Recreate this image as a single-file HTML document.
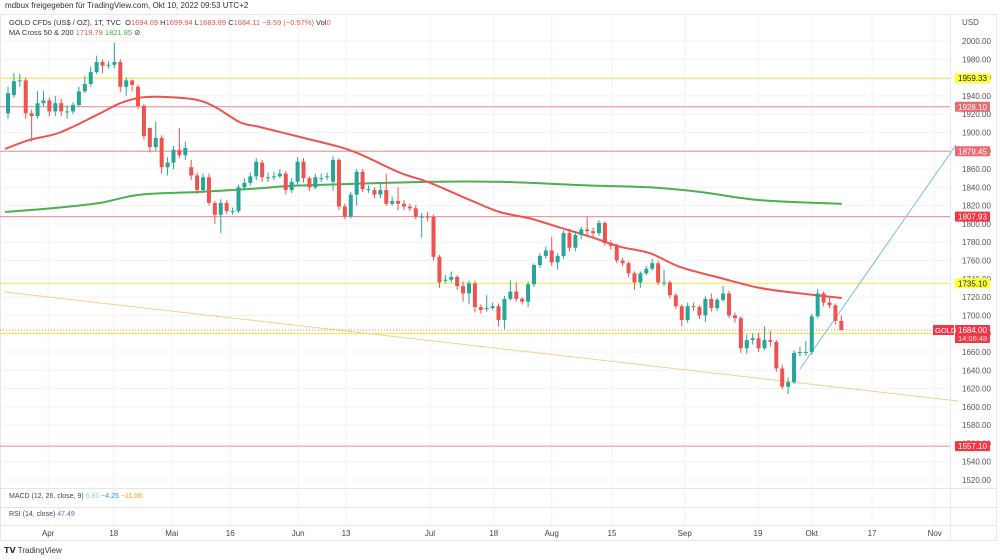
<!DOCTYPE html>
<html><head><meta charset="utf-8">
<style>
body{margin:0;background:#fff;font-family:"Liberation Sans",sans-serif;}
#wrap{position:relative;width:1000px;height:560px;overflow:hidden;}
svg{position:absolute;left:0;top:0;}
</style></head>
<body>
<div id="wrap">
<svg id="chart" width="1000" height="560"></svg>
</div>
<script>
const opens =[1921,1941,1956,1957,1921,1918,1932,1935,1923,1932,1923,1923,1930,1945,1953,1966,1977,1973,1974,1977,1950,1957,1950,1929,1905,1884,1894,1862,1867,1881,1875,1862,1853,1837,1851,1823,1810,1823,1814,1814,1840,1845,1852,1867,1851,1852,1852,1855,1837,1846,1868,1850,1840,1850,1851,1846,1870,1819,1808,1832,1857,1838,1837,1832,1837,1822,1825,1822,1819,1817,1808,1808,1808,1764,1739,1739,1742,1732,1724,1735,1709,1708,1708,1710,1695,1718,1726,1718,1715,1734,1755,1765,1771,1758,1765,1790,1774,1788,1794,1792,1790,1801,1779,1776,1760,1757,1746,1736,1746,1751,1757,1736,1736,1722,1710,1695,1710,1709,1700,1718,1708,1717,1724,1700,1697,1664,1673,1675,1664,1673,1671,1642,1622,1627,1660,1660,1660,1699,1724,1714,1711,1694];
const highs =[1950,1965,1964,1960,1925,1945,1946,1938,1940,1937,1930,1933,1950,1962,1972,1984,1980,1978,1998,1980,1960,1958,1952,1931,1905,1912,1897,1873,1885,1905,1890,1870,1856,1855,1855,1825,1827,1826,1818,1843,1850,1856,1872,1870,1856,1857,1860,1858,1850,1873,1872,1852,1855,1855,1856,1874,1872,1822,1835,1860,1860,1842,1840,1845,1855,1830,1840,1826,1822,1821,1812,1813,1810,1766,1744,1748,1744,1737,1738,1738,1712,1722,1714,1713,1721,1738,1736,1720,1737,1757,1768,1775,1786,1768,1793,1795,1792,1797,1808,1796,1804,1803,1782,1778,1763,1759,1748,1748,1754,1762,1760,1750,1738,1724,1712,1714,1714,1711,1721,1724,1719,1732,1727,1703,1699,1679,1680,1681,1688,1683,1673,1646,1632,1662,1666,1672,1702,1729,1726,1720,1713,1700];
const lows  =[1915,1938,1950,1915,1890,1915,1928,1918,1918,1918,1915,1920,1928,1943,1950,1964,1965,1970,1970,1944,1940,1945,1926,1892,1878,1880,1855,1853,1860,1872,1870,1848,1833,1834,1820,1800,1790,1811,1810,1812,1837,1842,1848,1846,1846,1848,1850,1832,1834,1843,1845,1836,1838,1846,1848,1836,1815,1805,1806,1820,1835,1834,1828,1828,1820,1820,1815,1815,1814,1805,1785,1803,1760,1730,1735,1736,1728,1715,1712,1703,1702,1704,1706,1688,1685,1716,1715,1712,1709,1731,1752,1762,1754,1750,1762,1770,1770,1783,1788,1786,1787,1776,1772,1757,1754,1742,1728,1730,1744,1749,1733,1732,1718,1707,1688,1692,1705,1696,1693,1704,1705,1715,1697,1692,1659,1658,1668,1660,1662,1666,1638,1619,1614,1625,1655,1656,1657,1697,1710,1708,1690,1684];
const closes=[1943,1956,1957,1921,1918,1932,1935,1923,1932,1923,1923,1930,1945,1953,1966,1977,1973,1974,1977,1950,1957,1952,1929,1896,1884,1894,1862,1867,1881,1875,1883,1853,1837,1851,1823,1810,1823,1814,1814,1840,1845,1852,1868,1851,1851,1852,1855,1837,1846,1868,1850,1840,1851,1850,1852,1870,1819,1808,1832,1857,1838,1838,1832,1837,1822,1825,1822,1819,1817,1808,1808,1807,1764,1736,1739,1742,1732,1724,1735,1709,1706,1708,1710,1695,1718,1726,1718,1715,1734,1755,1765,1771,1758,1765,1790,1774,1788,1794,1792,1790,1801,1779,1776,1760,1757,1746,1736,1746,1751,1757,1736,1736,1722,1710,1695,1710,1709,1700,1718,1708,1717,1724,1700,1697,1664,1673,1675,1664,1673,1671,1642,1622,1627,1659,1660,1660,1699,1724,1714,1711,1694,1684];
const ma50Idx=[-0.5,3.7,8.8,15.6,19,22.3,25.7,31.6,35,39.3,42.6,49.4,56.2,60,66.3,71.4,78.2,83.2,88.3,93.4,98.5,103.6,108.6,113.7,120.5,127.2,134,141.1];
const ma50Val=[1882,1892,1900,1921,1932,1938,1939,1936,1928,1911,1906,1895,1884,1875,1856,1845,1826,1813,1806,1796,1786,1775,1768,1753,1741,1730,1724,1719];
const ma200Idx=[-0.5,8.8,15.6,22.3,32.5,42.6,49.4,71.4,83.2,98.5,108.6,117,127.2,141.1];
const ma200Val=[1813,1818,1823,1832,1835,1839,1842,1846,1846,1842,1840,1835,1826,1822];
const yellowLevels=[1959.33,1735.10,1680.11];
const redLevels=[1928.10,1879.45,1807.93,1557.10];
const yTicks=[2000,1980,1960,1940,1920,1900,1880,1860,1840,1820,1800,1780,1760,1740,1720,1700,1680,1660,1640,1620,1600,1580,1560,1540,1520];
const dateLabels=["Apr","18","Mai","16","Jun","13","Jul","18","Aug","15","Sep","19","Okt","17","Nov"];
const dateIdx=[6.8,17.9,27.7,37.6,49.1,57.2,71.4,82.2,92,102.2,114.5,126.9,136,146.2,156.8];

const NS="http://www.w3.org/2000/svg";
const svg=document.getElementById('chart');
const X0=8,STEP=5.91;
const xs=i=>X0+i*STEP;
const ys=v=>41+(2000-v)*0.9146;
function el(tag,attrs,parent){const e=document.createElementNS(NS,tag);for(const k in attrs)e.setAttribute(k,attrs[k]);(parent||svg).appendChild(e);return e;}
function txt(s,attrs,parent){const e=el('text',attrs,parent);e.textContent=s;return e;}

el('rect',{x:0.5,y:14.5,width:996,height:526,fill:'none',stroke:'#e6e6e6'});
[488,507,525].forEach(y=>{const l=el('line',{x1:0,x2:997,y1:y+0.5,y2:y+0.5,stroke:'#e6e6e6'});

});
el('line',{x1:950.5,x2:950.5,y1:14,y2:540,stroke:'#eaeaea'});

const grid=el('g',{});


yTicks.forEach(v=>{el('line',{x1:0,x2:950,y1:ys(v),y2:ys(v),stroke:'#f3f3f3'},grid);});
dateIdx.forEach(i=>{el('line',{x1:xs(i),x2:xs(i),y1:14,y2:525,stroke:'#f3f3f3'},grid);});

yTicks.forEach(v=>{const t=txt(v.toFixed(2),{x:962,y:ys(v)+3,'font-size':8,fill:'#555'});

});
const usd=txt('USD',{x:962,y:25,'font-size':8,fill:'#555'});



dateLabels.forEach((s,k)=>{const t=txt(s,{x:xs(dateIdx[k]),y:536,'font-size':8,fill:'#444','text-anchor':'middle'});

});

yellowLevels.forEach(v=>{const l=el('line',{x1:0,x2:950,y1:ys(v),y2:ys(v),stroke:'#f2ec3a','stroke-width':1});

});
redLevels.forEach(v=>{const l=el('line',{x1:0,x2:950,y1:ys(v),y2:ys(v),stroke:'#ec8a8e','stroke-width':1});

});

const tl1=el('line',{x1:5,y1:292,x2:958,y2:401,stroke:'#f8cf8a','stroke-width':1});


const tl2=el('line',{x1:800,y1:369,x2:956,y2:145,stroke:'#7db8e8','stroke-width':1});



function smooth(idx,val,color,name){
const P=idx.map((i,k)=>[xs(i),ys(val[k])]);
let d='M'+P[0][0].toFixed(1)+','+P[0][1].toFixed(1);
for(let k=0;k<P.length-1;k++){const p0=P[k-1]||P[k],p1=P[k],p2=P[k+1],p3=P[k+2]||p2;
const c1=[p1[0]+(p2[0]-p0[0])/6,p1[1]+(p2[1]-p0[1])/6],c2=[p2[0]-(p3[0]-p1[0])/6,p2[1]-(p3[1]-p1[1])/6];
d+=' C'+c1[0].toFixed(1)+','+c1[1].toFixed(1)+' '+c2[0].toFixed(1)+','+c2[1].toFixed(1)+' '+p2[0].toFixed(1)+','+p2[1].toFixed(1);}
const p=el('path',{d:d,fill:'none',stroke:color,'stroke-width':2,'stroke-linejoin':'round'});

}
smooth(ma200Idx,ma200Val,'#4caf50','ma200-line');
smooth(ma50Idx,ma50Val,'#ef5350','ma50-line');

const cur=closes[closes.length-1];
el('line',{x1:0,x2:950,y1:ys(cur),y2:ys(cur),stroke:'#ef5350','stroke-dasharray':'1,2','stroke-width':0.8});

const cg=el('g',{});


closes.forEach((c,i)=>{const o=opens[i],up=c>=o,col=up?'#26a69a':'#ef5350';
const g=el('g',{},cg);


const x=xs(i);
el('line',{x1:x,x2:x,y1:ys(highs[i]),y2:ys(lows[i]),stroke:col,'stroke-width':1},g);
const t=ys(Math.max(o,c)),b=ys(Math.min(o,c));
el('rect',{x:x-2,y:t,width:4,height:Math.max(1,b-t),fill:col},g);});

function label(v,bg,fg,name,h){const y=ys(v);const g=el('g',{});


el('rect',{x:955,y:y-5,width:35,height:h||10,fill:bg,rx:1},g);
txt(v.toFixed(2),{x:958,y:y+3,'font-size':8,fill:fg},g);return g;}
yellowLevels.forEach(v=>label(v,'#ffff33','#222','yellow-level-label'));
label(1928.10,'#eb6b73','#fff','red-level-label');
label(1879.45,'#eb6b73','#fff','red-level-label');
label(1807.93,'#f23645','#fff','red-level-label');
label(1557.10,'#f23645','#fff','red-level-label');
const cl=label(cur,'#f23645','#fff','current-price-label',18);
txt('14:06:48',{x:958,y:ys(cur)+11,'font-size':7.5,fill:'#fde0e0'},cl);
const gold=el('g',{});


el('rect',{x:933,y:ys(cur)-5,width:21,height:10,fill:'#f23645'},gold);
txt('GOLD',{x:935,y:ys(cur)+3,'font-size':7.5,fill:'#fff'},gold);
</script>
<div style="position:absolute;left:5px;top:1px;font-size:8px;color:#333;">mdbux freigegeben für TradingView.com, Okt 10, 2022 09:53 UTC+2</div>
<div style="position:absolute;left:9px;top:18px;font-size:7.5px;color:#333;">GOLD CFDs (US$ / OZ), 1T, TVC&nbsp; O<span style="color:#ef5350">1694.69</span> H<span style="color:#ef5350">1699.94</span> L<span style="color:#ef5350">1683.89</span> C<span style="color:#ef5350">1684.11</span> <span style="color:#ef5350">−9.59 (−0.57%)</span> Vol<span style="color:#ef5350">0</span></div>
<div style="position:absolute;left:9px;top:28px;font-size:7.5px;color:#333;">MA Cross 50 &amp; 200 <span style="color:#ef5350">1719.79</span> <span style="color:#4caf50">1821.85</span> ⊘</div>
<div style="position:absolute;left:9px;top:493px;font-size:7px;color:#444;">MACD (12, 26, close, 9) <span style="color:#7fd3d3">6.81</span> <span style="color:#2196f3">−4.25</span> <span style="color:#ff9800">−11.06</span></div>
<div style="position:absolute;left:9px;top:511px;font-size:7px;color:#444;">RSI (14, close) <span style="color:#7e57c2">47.49</span></div>
<div style="position:absolute;left:4px;top:546px;font-size:8px;color:#333;"><b>𝗧𝗩</b> TradingView</div>
</body></html>
